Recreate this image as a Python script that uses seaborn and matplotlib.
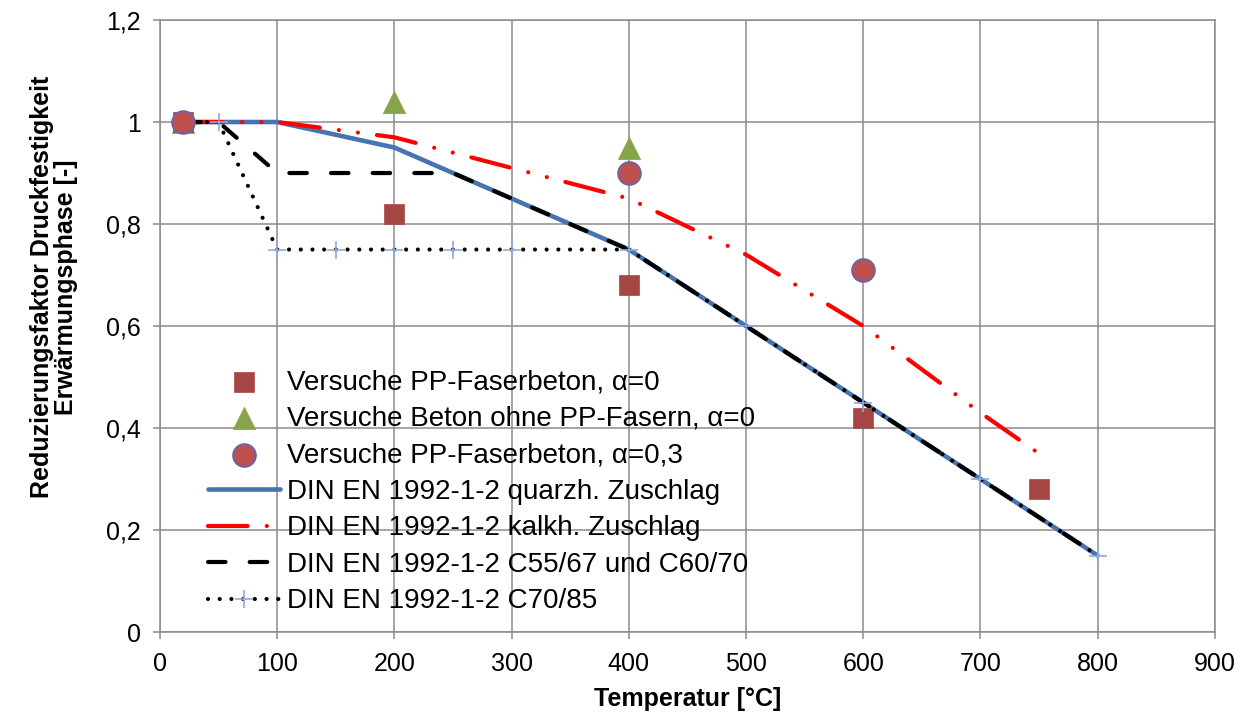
import matplotlib
matplotlib.use("Agg")
import matplotlib.pyplot as plt
import seaborn as sns
from matplotlib.ticker import FuncFormatter, MultipleLocator

# --- data ---
temp_pp = [20, 200, 400, 600, 750]
val_pp = [1.0, 0.82, 0.68, 0.42, 0.28]
temp_beton = [20, 200, 400]
val_beton = [1.0, 1.04, 0.95]
temp_pp03 = [20, 400, 600]
val_pp03 = [1.0, 0.90, 0.71]

temp_quarz = [20, 100, 200, 300, 400, 500, 600, 700, 800]
val_quarz = [1.0, 1.0, 0.95, 0.85, 0.75, 0.60, 0.45, 0.30, 0.15]
temp_kalk = [20, 100, 200, 300, 400, 500, 600, 700, 750]
val_kalk = [1.0, 1.0, 0.97, 0.91, 0.85, 0.74, 0.60, 0.43, 0.35]
temp_c55 = [20, 50, 100, 200, 250, 300, 400, 500, 600, 700, 800]
val_c55 = [1.0, 1.0, 0.90, 0.90, 0.90, 0.85, 0.75, 0.60, 0.45, 0.30, 0.15]
temp_c70 = [20, 50, 100, 150, 200, 250, 300, 400, 500, 600, 700, 800]
val_c70 = [1.0, 1.0, 0.75, 0.75, 0.75, 0.75, 0.75, 0.75, 0.60, 0.45, 0.30, 0.15]

labels = [
    "Versuche PP-Faserbeton, α=0",
    "Versuche Beton ohne PP-Fasern, α=0",
    "Versuche PP-Faserbeton, α=0,3",
    "DIN EN 1992-1-2 quarzh. Zuschlag",
    "DIN EN 1992-1-2 kalkh. Zuschlag",
    "DIN EN 1992-1-2 C55/67 und C60/70",
    "DIN EN 1992-1-2 C70/85",
]

sns.set_theme(style="white")
plt.rcParams["font.family"] = ["Liberation Sans", "DejaVu Sans"]
plt.rcParams["text.color"] = "black"
plt.rcParams["axes.labelcolor"] = "black"

fig = plt.figure(figsize=(12.46, 7.15), dpi=100)
ax = fig.add_axes([0.1284, 0.116, 0.8466, 0.856])

# norm curves
sns.lineplot(x=temp_quarz, y=val_quarz, ax=ax, color="#4674AE", linewidth=3.3,
             estimator=None, sort=False, label=labels[3], zorder=2)
sns.lineplot(x=temp_kalk, y=val_kalk, ax=ax, color="#FF0000", linewidth=3.0,
             linestyle=(0, (9.5, 4.6, 0.01, 4.6, 0.01, 4.6)), dash_capstyle="round",
             estimator=None, sort=False, label=labels[4], zorder=2.2)
sns.lineplot(x=temp_c55, y=val_c55, ax=ax, color="black", linewidth=3.0,
             linestyle=(0, (4.2, 5.8)), dash_capstyle="round",
             estimator=None, sort=False, label=labels[5], zorder=2.4)
sns.lineplot(x=temp_c70, y=val_c70, ax=ax, color="black", linewidth=3.0,
             linestyle=(0, (0.01, 2.8)), dash_capstyle="round",
             marker="+", markersize=13, markeredgewidth=1.2,
             markeredgecolor="#8FAADC", markerfacecolor="#8FAADC",
             estimator=None, sort=False, label=labels[6], zorder=4.5)

# test results
sns.scatterplot(x=temp_beton, y=val_beton, ax=ax, marker="^", s=260, color="#86A44A",
                edgecolor="#86A44A", linewidth=0.5, label=labels[1], zorder=3)
sns.scatterplot(x=temp_pp, y=val_pp, ax=ax, marker="s", s=210, color="#A34644",
                edgecolor="#A34644", linewidth=0.5, label=labels[0], zorder=4)
sns.scatterplot(x=temp_pp03, y=val_pp03, ax=ax, marker="o", s=260, color="#C0504D",
                edgecolor="#7560A0", linewidth=1.6, label=labels[2], zorder=5)

ax.set_xlim(0, 900)
ax.set_ylim(0, 1.2)
ax.xaxis.set_major_locator(MultipleLocator(100))
ax.yaxis.set_major_locator(MultipleLocator(0.2))
ax.yaxis.set_major_formatter(FuncFormatter(lambda v, p: f"{v:g}".replace(".", ",")))
ax.grid(True, color="#8C8C8C", linewidth=1.1)
ax.set_axisbelow(True)
for s in ax.spines.values():
    s.set_color("#8C8C8C")
    s.set_linewidth(1.1)
ax.tick_params(axis="both", direction="out", length=5, width=1.1, color="#8C8C8C",
               labelsize=18, labelcolor="black", pad=9, left=True, bottom=True)

ax.set_xlabel("Temperatur [°C]", fontsize=18, fontweight="bold", labelpad=8)
ax.set_ylabel("Reduzierungsfaktor Druckfestigkeit\nErwärmungsphase [-]",
              fontsize=18, fontweight="bold", linespacing=1.0)
ax.yaxis.set_label_coords(-0.078, 0.564)

handles, labs = ax.get_legend_handles_labels()
lookup = dict(zip(labs, handles))
ax.legend([lookup[l] for l in labels], labels, loc="upper left",
          bbox_to_anchor=(208 / 1246, 1 - 369 / 715), bbox_transform=fig.transFigure,
          frameon=False, fontsize=20, borderpad=0, borderaxespad=0,
          handlelength=2.6, handletextpad=0.25, labelspacing=0.38,
          markerscale=1.0)

plt.savefig("out.png", dpi=100)
plt.close()
